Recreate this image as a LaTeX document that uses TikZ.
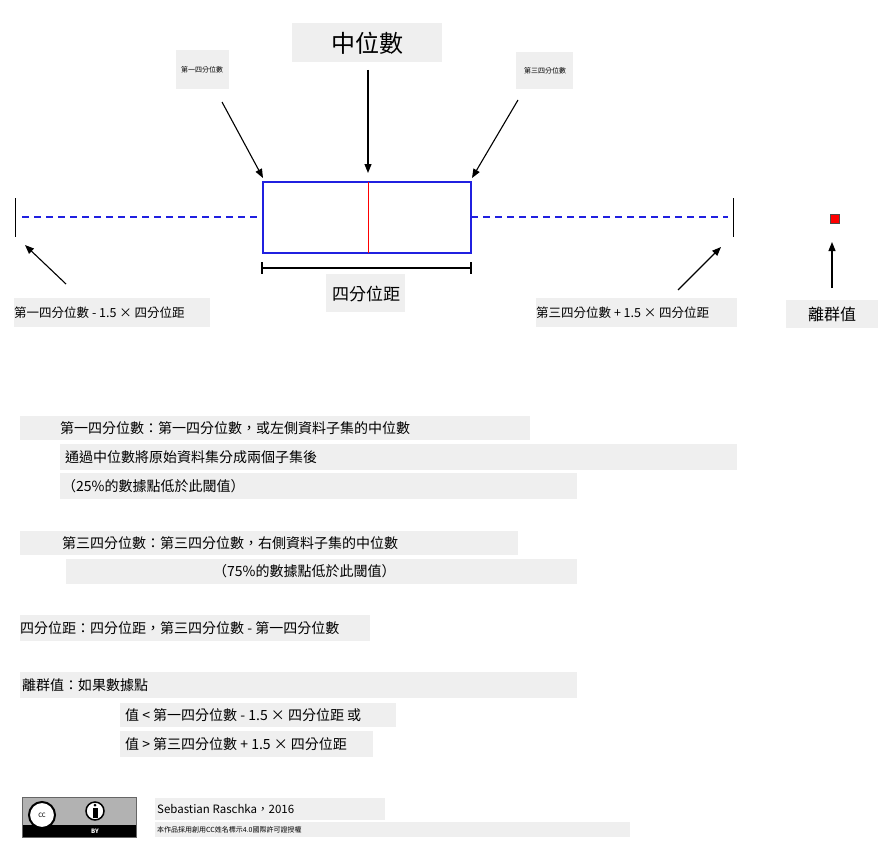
\documentclass[tikz,border=0pt]{standalone}
\usepackage{fontspec}
\setmainfont{Noto Sans CJK TC}
\usetikzlibrary{positioning,arrows.meta}
\definecolor{labelbg}{HTML}{EFEFEF}
\definecolor{boxblue}{HTML}{2020E0}
\tikzset{
  lbl/.style={fill=labelbg, inner sep=0pt, anchor=north west},
  txt/.style={anchor=west, inner sep=0pt, font=\fontsize{14}{14}\selectfont},
  pointer/.style={-{Triangle[length=9pt,width=7pt]}, line width=1.1pt},
  blu/.style={draw=boxblue, line width=1.4pt}
}
\newcommand{\greybox}[5]{% name, x1, y1, x2, y2
  \fill[labelbg] (#2,#3) rectangle (#4,#5);
  \coordinate (#1) at (#2,{(#3+#5)/2});}
\begin{document}
\begin{tikzpicture}[x=1pt,y=-1pt]
\useasboundingbox (0,0) rectangle (880,848);

% labels at the top
\greybox{medbox}{292}{23}{442}{62}
\node (med) at (367,43) {\fontsize{24}{24}\selectfont 中位數};
\greybox{qonebox}{176}{50}{229}{89}
\node (qone) at (202,70) {\fontsize{7}{7}\selectfont 第一四分位數};
\greybox{qthreebox}{516}{52}{573}{89}
\node (qthree) at (545,71) {\fontsize{7}{7}\selectfont 第三四分位數};

% box and whiskers
\draw[blu] (263,182) rectangle (471,253);
\coordinate (boxnw) at (263,178);
\coordinate (boxne) at (472,178);
\coordinate (medtop) at (368,173);
\draw[red, line width=0.9pt] (368,182) -- (368,253);
\draw[draw=boxblue, line width=1.2pt, dash pattern=on 7pt off 5pt] (22,217) -- (263,217);
\draw[draw=boxblue, line width=1.2pt, dash pattern=on 7pt off 5pt] (471,217) -- (728,217);
\draw[line width=0.9pt] (15,198) -- (15,237);
\draw[line width=0.9pt] (733,198) -- (733,237);
\fill[red] (830,214) rectangle (839,223);
\draw[black!70, line width=0.3pt] (830,214) rectangle (839,223);

% pointers
\coordinate (qonetail) at (222,102);
\coordinate (medtail) at (368,70);
\coordinate (qthreetail) at (518,100);
\draw[pointer] (qonetail) -- (boxnw);
\draw[pointer] (medtail) -- (medtop);
\draw[pointer] (qthreetail) -- (boxne);
\coordinate (lowtail) at (66,284);
\coordinate (lowhead) at (25,245);
\coordinate (hightail) at (678,290);
\coordinate (highhead) at (721,247);
\coordinate (outtail) at (832,288);
\coordinate (outhead) at (832,242);
\draw[pointer] (lowtail) -- (lowhead);
\draw[pointer] (hightail) -- (highhead);
\draw[pointer] (outtail) -- (outhead);

% IQR bracket
\draw[line width=1.5pt] (262,268) -- (471,268);
\draw[line width=1.1pt] (262,262) -- (262,274);
\draw[line width=1.1pt] (471,262) -- (471,274);

\greybox{iqrbox}{326}{274}{405}{312}
\node (iqr) at (366,294) {\fontsize{17}{17}\selectfont 四分位距};
\greybox{lowbox}{14}{298}{210}{327}
\node[txt] (low) at (lowbox) {\fontsize{12.5}{12.5}\selectfont 第一四分位數 - 1.5 × 四分位距};
\greybox{highbox}{536}{298}{737}{327}
\node[txt] (high) at (highbox) {\fontsize{12.5}{12.5}\selectfont 第三四分位數 + 1.5 × 四分位距};
\greybox{outbox}{786}{300}{878}{328}
\node (out) at (832,314) {\fontsize{16}{16}\selectfont 離群值};

% explanations
\greybox{rowa}{20}{416}{530}{440}
\node[txt] (ta) at ([xshift=40pt]rowa) {第一四分位數：第一四分位數，或左側資料子集的中位數};
\greybox{rowb}{60}{444}{737}{470}
\node[txt] (tb) at ([xshift=5pt]rowb) {通過中位數將原始資料集分成兩個子集後};
\greybox{rowc}{60}{473}{577}{499}
\node[txt] (tc) at ([xshift=2pt]rowc) {（25\%的數據點低於此閾值）};
\greybox{rowd}{20}{531}{518}{555}
\node[txt] (td) at ([xshift=42pt]rowd) {第三四分位數：第三四分位數，右側資料子集的中位數};
\greybox{rowe}{66}{559}{577}{584}
\node[txt] (te) at ([xshift=147pt]rowe) {（75\%的數據點低於此閾值）};
\greybox{rowf}{20}{615}{370}{641}
\node[txt] (tf) at (rowf) {四分位距：四分位距，第三四分位數 - 第一四分位數};
\greybox{rowg}{20}{672}{577}{698}
\node[txt] (tg) at ([xshift=2pt]rowg) {離群值：如果數據點};
\greybox{rowh}{120}{703}{396}{727}
\node[txt] (th) at ([xshift=5pt]rowh) {值 < 第一四分位數 - 1.5 × 四分位距 或};
\greybox{rowi}{120}{731}{373}{757}
\node[txt] (ti) at ([xshift=5pt]rowi) {值 > 第三四分位數 + 1.5 × 四分位距};

% licence badge
\fill[black!30] (22,797) rectangle (136,837);
\fill[black] (22,825) rectangle (136,837);
\draw[black!60] (22,797) rectangle (136,837);
\node[text=white, font=\bfseries\fontsize{6}{6}\selectfont] (by) at (95,831) {BY};
\filldraw[fill=white, draw=black, line width=2pt] (42,815) circle (13pt);
\node[font=\fontsize{6}{6}\selectfont] (cc) at (42,815) {CC};
\filldraw[fill=white, draw=black, line width=1.5pt] (95,811) circle (9pt);
\fill (95,805) circle (1.5pt);
\fill (92.5,808) rectangle (97.5,818);
\greybox{authbox}{155}{798}{385}{820}
\node[txt, font=\fontsize{11.5}{11.5}\selectfont] (auth) at ([xshift=2pt]authbox) {Sebastian Raschka，2016};
\greybox{licbox}{155}{822}{630}{837}
\node[txt, font=\fontsize{7}{7}\selectfont] (lic) at ([xshift=2pt]licbox) {本作品採用創用CC姓名標示4.0國際許可證授權};
\end{tikzpicture}
\end{document}
